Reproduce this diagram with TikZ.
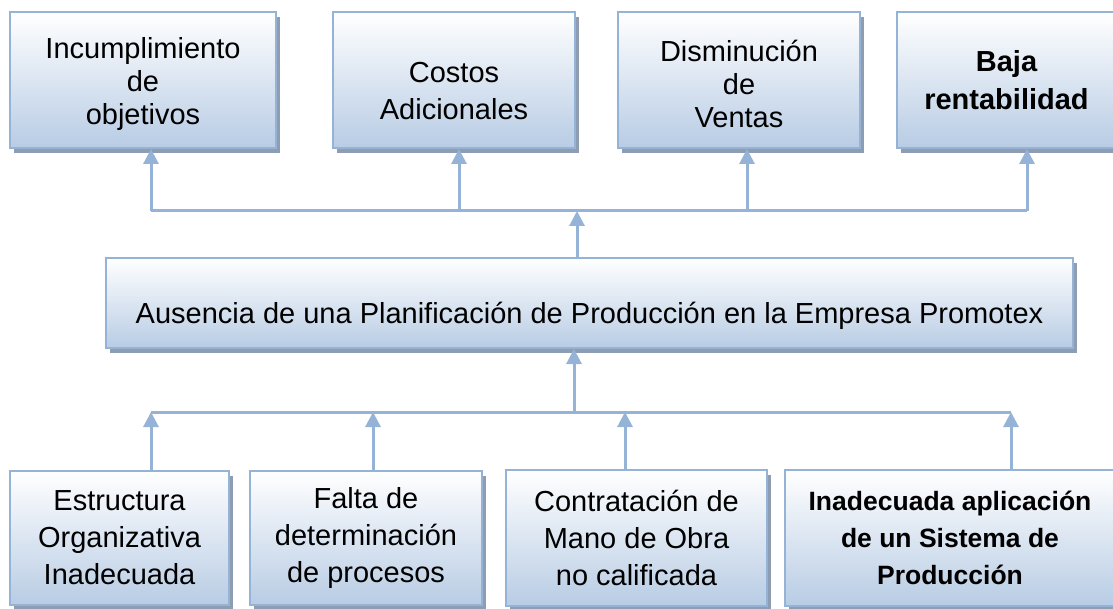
\documentclass[tikz,border=0pt]{standalone}
\usepackage{fontspec}
\setmainfont{Liberation Sans}
\usetikzlibrary{arrows.meta,shadows}

\definecolor{lineblue}{HTML}{95B3D7}
\definecolor{boxblue}{HTML}{B8CCE4}
\definecolor{shadowgray}{HTML}{8E9DB2}

% un poco de aire arriba de la primera linea
\newcommand{\empuje}[1]{\rule{0pt}{#1}}

\tikzset{
	caja/.style={draw=lineblue, line width=2pt, top color=white, bottom color=boxblue,
		align=center, inner sep=0pt, font=\fontsize{29}{37}\selectfont,
		drop shadow={shadow xshift=4pt, shadow yshift=-5pt, fill=shadowgray, opacity=1}},
	apretada/.style={font=\fontsize{29}{33}\selectfont},
	negrita/.style={font=\fontsize{29}{38}\selectfont\bfseries},
	negritachica/.style={font=\fontsize{26.5}{37}\selectfont\bfseries},
	linea/.style={draw=lineblue, line width=3pt},
	flecha/.style={linea, -{Triangle[length=15pt,width=15pt]}},
}

\begin{document}
\begin{tikzpicture}[x=1pt,y=1pt]
		\def\top{-80}
		\def\bot{-538}
		\useasboundingbox (0,0) rectangle (1113,-609);

		% efectos
		\node[caja, apretada, minimum width=266, minimum height=136] (t1) at (143,\top) {\empuje{29pt}Incumplimiento\\de\\objetivos};
		\node[caja, minimum width=242, minimum height=136] (t2) at (454,\top) {\empuje{43pt}Costos\\Adicionales};
		\node[caja, apretada, minimum width=242, minimum height=136] (t3) at (739,\top) {\empuje{29pt}Disminución\\de\\Ventas};
		\node[caja, negrita, minimum width=219, minimum height=136] (t4) at (1006.5,\top) {Baja\\rentabilidad};

		% problema central
		\node[caja, minimum width=967, minimum height=90] (m) at (589.5,-303) {\empuje{47pt}Ausencia de una Planificación de Producción en la Empresa Promotex};

		% causas
		\node[caja, minimum width=219, minimum height=134] (b1) at (119.5,\bot) {Estructura\\Organizativa\\Inadecuada};
		\node[caja, minimum width=232, minimum height=134] (b2) at (366,\bot) {Falta de\\determinación\\de procesos};
		\node[caja, minimum width=261, minimum height=136] (b3) at (636.5,\bot) {Contratación de\\Mano de Obra\\no calificada};
		\node[caja, negritachica, minimum width=330, minimum height=136] (b4) at (950,\bot) {Inadecuada aplicación\\de un Sistema de\\Producción};

		% conectores de arriba
		\coordinate (j1) at (151,-211);
		\coordinate (j2) at (459,-211);
		\coordinate (j3) at (747,-211);
		\coordinate (j4) at (1027,-211);
		\coordinate (jm) at (577,-211);
		\draw[linea] (j1) -- (j4);
		\foreach \j/\t in {j1/t1,j2/t2,j3/t3,j4/t4}
		{
			\draw[flecha] (\j) -- (\j |- \t.south);
		}
		\draw[flecha] (jm |- m.north) -- (jm);

		% conectores de abajo
		\coordinate (k1) at (151,-412);
		\coordinate (k2) at (373,-412);
		\coordinate (k3) at (625,-412);
		\coordinate (k4) at (1011,-412);
		\coordinate (km) at (574,-412);
		\draw[linea] (k1) -- (k4);
		\foreach \k/\b in {k1/b1,k2/b2,k3/b3,k4/b4}
		{
			\draw[flecha] (\k |- \b.north) -- (\k);
		}
		\draw[flecha] (km) -- (km |- m.south);
	\end{tikzpicture}
\end{document}
